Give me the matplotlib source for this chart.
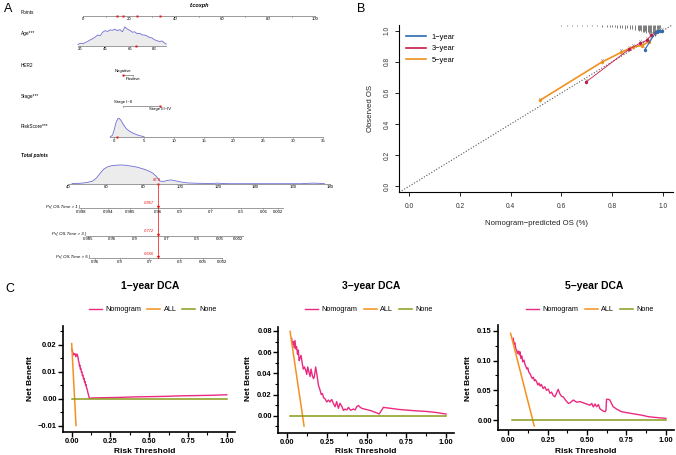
import numpy as np
import matplotlib
matplotlib.use("Agg")
import matplotlib.pyplot as plt
from matplotlib.ticker import MultipleLocator
from matplotlib.lines import Line2D

plt.rcParams['font.family'] = ['Liberation Sans', 'DejaVu Sans']

# ---------------- Panel A data (nomogram) ----------------
age_ticks = [25, 45, 65, 85]
age_grid = [23, 25, 27, 29, 31, 33, 35, 37, 39, 41, 43, 45, 47, 49, 51, 53, 55, 57,
            59, 61, 63, 65, 67, 69, 71, 73, 75, 77, 79, 81, 83, 85, 87, 89, 91, 93, 94.5]
age_dens = [0.05, 0.12, 0.10, 0.16, 0.22, 0.30, 0.36, 0.45, 0.55, 0.52, 0.70, 0.78, 0.74,
            0.82, 0.80, 0.86, 0.78, 0.84, 0.72, 0.98, 0.86, 0.80, 0.70, 0.72, 0.62, 0.64,
            0.56, 0.55, 0.50, 0.42, 0.40, 0.30, 0.26, 0.20, 0.24, 0.14, 0.08]
her2_levels = ["Negative", "Positive"]
her2_points = [17.2, 21.5]
stage_levels = ["Stage I~II", "Stage III~IV"]
stage_points = [17.2, 33.4]
risk_ticks = [0, 5, 10, 15, 20, 25, 30, 35]
risk_grid = [-0.7, -0.3, 0.0, 0.3, 0.6, 0.8, 1.1, 1.5, 2.0, 2.6, 3.2, 3.8, 4.4, 5.0]
risk_dens = [0.0, 0.10, 0.40, 0.78, 0.98, 1.0, 0.90, 0.68, 0.45, 0.30, 0.20, 0.12, 0.06, 0.02]
total_ticks = [40, 60, 80, 100, 120, 140, 160, 180]
total_grid = [42, 46, 50, 53, 55, 57, 59, 61, 63, 65, 67, 69, 71, 73, 75, 77, 79, 81, 83,
              85, 87, 89, 91, 93, 95, 97, 99, 101, 104, 107, 110, 113, 116, 118, 120, 122,
              126, 135, 150, 165, 168, 171, 174, 177]
total_dens = [0.01, 0.02, 0.06, 0.14, 0.30, 0.55, 0.78, 0.90, 0.96, 0.98, 1.0, 1.0, 0.98,
              0.95, 0.92, 0.88, 0.82, 0.76, 0.68, 0.58, 0.40, 0.14, 0.12, 0.18, 0.20, 0.16,
              0.12, 0.08, 0.04, 0.03, 0.02, 0.015, 0.01, 0.02, 0.03, 0.01, 0.0, 0.0, 0.0,
              0.0, 0.02, 0.03, 0.02, 0.0]
sel_points = [14.6, 17.2, 23.5, 33.4]     # RiskScore, HER2, Age, Stage
sel_age = 70
sel_risk = 0.4
sel_total = 88.0
sel_total_label = "87.9"
pr1_ticks = ["0.998", "0.994", "0.985", "0.96", "0.9", "0.7", "0.3", "0.05", "0.002"]
pr1_total = [46.8, 61.4, 73.0, 88.1, 99.7, 116.1, 132.2, 144.3, 152.0]
pr1_range = [46.3, 155.0]
pr3_ticks = ["0.985", "0.96", "0.9", "0.7", "0.3", "0.05", "0.002"]
pr3_total = [50.7, 63.2, 75.7, 92.6, 108.7, 121.1, 130.9]
pr3_range = [49.5, 133.6]
pr5_ticks = ["0.96", "0.9", "0.7", "0.3", "0.05", "0.002"]
pr5_total = [54.3, 67.6, 83.3, 99.7, 111.9, 122.0]
pr5_range = [51.6, 122.0]
pr_pred = ["0.957", "0.772", "0.656"]

# ---------------- Panel B data (calibration) ----------------
cal1_x = [0.928, 0.972, 0.982, 0.990, 0.995]
cal1_y = [0.876, 0.990, 0.995, 0.997, 0.999]
cal3_x = [0.696, 0.867, 0.909, 0.936, 0.955, 0.971]
cal3_y = [0.669, 0.881, 0.919, 0.938, 0.972, 0.990]
cal5_x = [0.514, 0.758, 0.836, 0.883, 0.918, 0.945]
cal5_y = [0.551, 0.797, 0.861, 0.897, 0.904, 0.930]
rug_x = [0.00, 0.05, 0.10, 0.14, 0.18, 0.22, 0.26, 0.30, 0.33, 0.36, 0.39, 0.42, 0.45,
         0.48, 0.51, 0.54, 0.57, 0.60, 0.62, 0.64, 0.66, 0.68, 0.70, 0.72, 0.74, 0.76,
         0.78, 0.79, 0.80, 0.81, 0.82, 0.83, 0.84, 0.85, 0.86, 0.87, 0.88, 0.89, 0.90,
         0.905, 0.91, 0.915, 0.92, 0.925, 0.93, 0.935, 0.94, 0.945, 0.95, 0.955, 0.96,
         0.965, 0.97, 0.975, 0.98, 0.985, 0.99]
rug_h = [1, 1, 1, 1, 1, 1, 1, 1, 1, 1, 1, 1, 1, 1, 1, 1, 1, 1.5, 1.5, 1.5, 1.5, 1.5, 2,
         2, 2, 2.5, 2.5, 3, 3, 3, 3.5, 3.5, 4, 4.5, 4, 5, 5, 5.5, 6, 6.5, 6, 7, 7.5, 8,
         7, 9, 8, 10, 9, 11, 9, 10, 12, 9, 8, 6, 4]

# ---------------- Panel C data (DCA) ----------------
dca1_t = [0.001, 0.012, 0.021, 0.027, 0.033, 0.038, 0.042, 0.044, 0.047, 0.050, 0.053,
          0.056, 0.059, 0.063, 0.066, 0.069, 0.073, 0.076, 0.080, 0.083, 0.087, 0.090,
          0.093, 0.097, 0.100, 0.104, 0.107, 0.111, 0.114, 0.13, 0.20, 0.30, 0.40, 0.50,
          0.60, 0.70, 0.80, 0.90, 1.00]
dca1_nb = [0.0185, 0.0163, 0.0168, 0.0156, 0.0166, 0.0160, 0.0150, 0.0140, 0.0136,
           0.0122, 0.0125, 0.0110, 0.0113, 0.0098, 0.0100, 0.0086, 0.0088, 0.0074, 0.0076,
           0.0062, 0.0064, 0.0050, 0.0052, 0.0038, 0.0036, 0.0024, 0.0018, 0.0008,
           0.0002, 0.0003, 0.0004, 0.0005, 0.0007, 0.0008, 0.0009, 0.0011, 0.0012,
           0.0013, 0.0015]
dca1_all_t = [0.0, 0.028]
dca1_all_nb = [0.0205, -0.0099]
dca1_none_t = [0.0, 1.0]

dca2_t = [0.029, 0.034, 0.040, 0.045, 0.050, 0.055, 0.060, 0.066, 0.071, 0.076, 0.081,
          0.088, 0.096, 0.102, 0.109, 0.117, 0.124, 0.130, 0.138, 0.145, 0.151, 0.159,
          0.166, 0.172, 0.180, 0.189, 0.197, 0.208, 0.215, 0.222, 0.230, 0.239, 0.250,
          0.260, 0.270, 0.281, 0.291, 0.302, 0.312, 0.323, 0.333, 0.344, 0.355, 0.365,
          0.376, 0.386, 0.400, 0.417, 0.428, 0.438, 0.449, 0.460, 0.470, 0.490, 0.512,
          0.533, 0.554, 0.567, 0.579, 0.606, 0.650, 0.700, 0.760, 0.826, 0.880, 0.931,
          1.000]
dca2_nb = [0.073, 0.067, 0.070, 0.064, 0.071, 0.063, 0.065, 0.058, 0.062, 0.052, 0.054,
           0.057, 0.049, 0.044, 0.046, 0.043, 0.039, 0.046, 0.041, 0.037, 0.044, 0.038,
           0.035, 0.037, 0.046, 0.038, 0.029, 0.024, 0.020, 0.021, 0.017, 0.016, 0.013,
           0.0148, 0.013, 0.0154, 0.0117, 0.0085, 0.0133, 0.007, 0.0117, 0.009, 0.005,
           0.0063, 0.0055, 0.0079, 0.0052, 0.0063, 0.0055, 0.0085, 0.0097, 0.0080, 0.007,
           0.0062, 0.0054, 0.0045, 0.0032, 0.0025, 0.0016, 0.0079, 0.0070, 0.006, 0.0052,
           0.0045, 0.0040, 0.0032, 0.0016]
dca2_all_t = [0.019, 0.107]
dca2_all_nb = [0.0795, -0.0097]
dca2_none_t = [0.019, 1.0]

dca3_t = [0.032, 0.037, 0.042, 0.048, 0.053, 0.058, 0.064, 0.070, 0.074, 0.080, 0.086,
          0.092, 0.100, 0.106, 0.112, 0.118, 0.124, 0.130, 0.138, 0.145, 0.152, 0.160,
          0.166, 0.172, 0.180, 0.188, 0.195, 0.203, 0.210, 0.222, 0.232, 0.243, 0.254,
          0.265, 0.275, 0.286, 0.296, 0.306, 0.317, 0.328, 0.338, 0.349, 0.360, 0.371,
          0.382, 0.392, 0.413, 0.434, 0.455, 0.476, 0.497, 0.519, 0.530, 0.540, 0.551,
          0.561, 0.572, 0.582, 0.593, 0.603, 0.614, 0.620, 0.624, 0.634, 0.645, 0.655,
          0.666, 0.690, 0.720, 0.760, 0.804, 0.850, 0.889, 0.940, 1.000]
dca3_nb = [0.1376, 0.128, 0.130, 0.120, 0.118, 0.112, 0.116, 0.110, 0.115, 0.104, 0.108,
           0.098, 0.101, 0.094, 0.090, 0.086, 0.088, 0.081, 0.078, 0.074, 0.070, 0.072,
           0.066, 0.068, 0.0645, 0.059, 0.062, 0.057, 0.060, 0.053, 0.056, 0.050, 0.052,
           0.045, 0.047, 0.041, 0.039, 0.045, 0.0517, 0.044, 0.040, 0.039, 0.035, 0.031,
           0.028, 0.029, 0.0337, 0.030, 0.031, 0.029, 0.027, 0.025, 0.028, 0.022, 0.027,
           0.0224, 0.026, 0.019, 0.0168, 0.015, 0.014, 0.016, 0.0348, 0.035, 0.0337,
           0.028, 0.0224, 0.018, 0.014, 0.012, 0.0101, 0.0080, 0.0056, 0.0042, 0.0028]
dca3_all_t = [0.015, 0.165]
dca3_all_nb = [0.146, -0.010]
dca3_none_t = [0.025, 1.0]

W, H = 676, 455
fig = plt.figure(figsize=(W / 100, H / 100), dpi=100)


def rect(l, t, r, b):
    return [l / W, 1 - b / H, (r - l) / W, (b - t) / H]


# =============== Panel A ===============
axA = fig.add_axes([0, 0, 340 / W, 1])
PX0, PXS = 82.7, 2.323          # pixel of 0 points, px per point
axA.set_xlim(-PX0 / PXS, (340 - PX0) / PXS)
axA.set_ylim(H, 0)
axA.axis('off')
GRAY = '#8a8a8a'
NFS = 3.4
LBLX = (20.7 - PX0) / PXS
DENS_C = '#6b6bd6'
FILL_C = '#ececec'


def age_pts(a):
    return -0.95 + (np.asarray(a, float) - 25) * 0.531


def risk_pts(r):
    return 13.6 + np.asarray(r, float) * 2.563


def tot_x(t):
    return -6.2 + (np.asarray(t, float) - 40) * 0.805


axA.text((200 - PX0) / PXS, 6, 'f.coxph', fontsize=4, fontweight='bold', fontstyle='italic',
         ha='center', va='center')
# Points row
yP = 15.7
axA.text(LBLX, 12.3, 'Points', fontsize=NFS, va='center', ha='left')
axA.plot([0, 100], [yP, yP], color=GRAY, lw=0.6)
for v in range(0, 101, 10):
    axA.plot([v, v], [yP, yP + (1.4 if v % 20 == 0 else 0.8)], color=GRAY, lw=0.5)
for v in range(0, 101, 20):
    axA.text(v, yP + 3.8, str(v), fontsize=NFS - 0.3, ha='center', va='center')
axA.plot(sel_points, [yP] * 4, 's', color='#ee1111', ms=1.8, mec='none')

# Age row
yA = 45.5
axA.text(LBLX, 33.3, 'Age***', fontsize=NFS, va='center', ha='left')
ax_ = age_pts(age_grid)
dy = yA - np.array(age_dens) * 19
axA.fill_between(ax_, dy, yA, color=FILL_C, lw=0)
axA.plot(ax_, dy, color=DENS_C, lw=0.6)
axA.plot([ax_[0], ax_[-1]], [yA, yA], color=GRAY, lw=0.6)
for v in age_ticks:
    axA.plot([age_pts(v)] * 2, [yA, yA + 1.2], color=GRAY, lw=0.5)
    axA.text(age_pts(v), yA + 3.8, str(v), fontsize=NFS - 0.3, ha='center', va='center')
axA.plot([age_pts(sel_age)], [yA], 's', color='#ee1111', ms=1.8, mec='none')

# HER2 row
yH = 75.0
axA.text(LBLX, 65.7, 'HER2', fontsize=NFS, va='center', ha='left')
axA.plot(her2_points, [yH, yH], color=GRAY, lw=0.6)
for p in her2_points:
    axA.plot([p, p], [yH, yH + 1.0], color=GRAY, lw=0.5)
axA.text(her2_points[0], yH - 4, her2_levels[0], fontsize=NFS - 0.3, ha='center', va='center')
axA.text(her2_points[1], yH + 3.7, her2_levels[1], fontsize=NFS - 0.3, ha='center', va='center')
axA.plot([her2_points[0]], [yH], 's', color='#ee1111', ms=1.8, mec='none')

# Stage row
yS = 106.0
axA.text(LBLX, 96.7, 'Stage***', fontsize=NFS, va='center', ha='left')
axA.plot(stage_points, [yS, yS], color=GRAY, lw=0.6)
for p in stage_points:
    axA.plot([p, p], [yS, yS + 1.0], color=GRAY, lw=0.5)
axA.text(stage_points[0], yS - 4, stage_levels[0], fontsize=NFS - 0.3, ha='center', va='center')
axA.text(stage_points[1], yS + 3.4, stage_levels[1], fontsize=NFS - 0.3, ha='center', va='center')
axA.plot([stage_points[1]], [yS], 's', color='#ee1111', ms=1.8, mec='none')

# RiskScore row
yR = 137.0
axA.text(LBLX, 126.7, 'RiskScore***', fontsize=NFS, va='center', ha='left')
rx = risk_pts(risk_grid)
ry = yR - np.array(risk_dens) * 18.7
axA.fill_between(rx, ry, yR, color=FILL_C, lw=0)
axA.plot(rx, ry, color=DENS_C, lw=0.6)
axA.plot([risk_pts(-0.7), risk_pts(35)], [yR, yR], color=GRAY, lw=0.6)
for v in risk_ticks:
    axA.plot([risk_pts(v)] * 2, [yR, yR + 1.2], color=GRAY, lw=0.5)
    axA.text(risk_pts(v), yR + 3.8, str(v), fontsize=NFS - 0.3, ha='center', va='center')
axA.plot([risk_pts(sel_risk)], [yR], 's', color='#ee1111', ms=1.8, mec='none')

# Total points row
yT = 183.7
axA.text(LBLX, 155.7, 'Total points', fontsize=NFS, fontweight='bold', fontstyle='italic',
         va='center', ha='left')
tx = tot_x(total_grid)
ty = yT - np.array(total_dens) * 18.7
axA.fill_between(tx, ty, yT, color=FILL_C, lw=0)
axA.plot(tx, ty, color=DENS_C, lw=0.6)
axA.plot([tot_x(40), tot_x(180)], [yT, yT], color=GRAY, lw=0.6)
for v in total_ticks:
    axA.plot([tot_x(v)] * 2, [yT, yT + 1.2], color=GRAY, lw=0.5)
    axA.text(tot_x(v), yT + 3.8, str(v), fontsize=NFS - 0.3, ha='center', va='center')
xs = float(tot_x(sel_total))
axA.plot([xs], [yT], 's', color='#ee1111', ms=2.0, mec='none')
axA.text(xs - 0.5, yT - 4, sel_total_label, fontsize=NFS - 0.4, color='#ee1111',
         fontstyle='italic', ha='center', va='center')

# Probability rows
pr_rows = [(208.0, 'Pr( OS.Time > 1 )', pr1_ticks, pr1_total, pr1_range),
           (235.7, 'Pr( OS.Time > 3 )', pr3_ticks, pr3_total, pr3_range),
           (258.3, 'Pr( OS.Time > 5 )', pr5_ticks, pr5_total, pr5_range)]
axA.plot([xs, xs], [yT, 258.3], color='#ee3333', lw=0.6)
for i, (yy, lab, tl, tt, rg) in enumerate(pr_rows):
    x0, x1 = tot_x(rg[0]), tot_x(rg[1])
    axA.plot([x0, x1], [yy, yy], color=GRAY, lw=0.6)
    axA.text(x0, yy - 1.2, lab, fontsize=NFS - 0.2, fontstyle='italic', ha='right', va='center')
    for s, t in zip(tl, tt):
        axA.plot([tot_x(t)] * 2, [yy, yy + 1.2], color=GRAY, lw=0.5)
        axA.text(tot_x(t), yy + 3.8, s, fontsize=NFS - 0.3, ha='center', va='center')
    axA.plot([xs], [yy - 1.2], 'v', color='#ee1111', ms=2.4, mec='none')
    axA.text(xs - 3.8, yy - 4.5, pr_pred[i], fontsize=NFS - 0.4, color='#ee1111',
             fontstyle='italic', ha='center', va='center')

# =============== Panel B ===============
axB = fig.add_axes(rect(399.3, 24.5, 673, 192.3))
axB.set_xlim(-0.04, 1.04)
axB.set_ylim(-0.04, 1.04)
for s in ['top', 'right']:
    axB.spines[s].set_visible(False)
for s in ['left', 'bottom']:
    axB.spines[s].set_linewidth(0.8)
axB.set_xticks([0, 0.2, 0.4, 0.6, 0.8, 1.0])
axB.set_yticks([0, 0.2, 0.4, 0.6, 0.8, 1.0])
axB.set_xticklabels(['0.0', '0.2', '0.4', '0.6', '0.8', '1.0'])
axB.set_yticklabels(['0.0', '0.2', '0.4', '0.6', '0.8', '1.0'], rotation=90, va='center')
axB.tick_params(length=3, width=0.7, labelsize=4.8, color='#222222', labelcolor='#333333')
axB.tick_params(axis='x', pad=5)
axB.tick_params(axis='y', pad=3.5)
axB.plot([-0.04, 1.04], [-0.04, 1.04], ls=(0, (1, 1.6)), color='#555555', lw=0.8)
rh = np.array(rug_h) / 156.0
axB.vlines(rug_x, 1.04 - rh, 1.04, color='#333333', lw=0.45, clip_on=False)
C1, C3, C5 = '#2f6bad', '#c41a45', '#f0901f'
for cx, cy, c, lw in [(cal5_x, cal5_y, C5, 1.2), (cal3_x, cal3_y, C3, 0.6), (cal1_x, cal1_y, C1, 0.8)]:
    axB.vlines(cx, np.array(cy) - 0.012, np.array(cy) + 0.012, color='#9a9a9a', lw=0.4)
    axB.plot(cx, np.array(cy) + 0.012, 'x', color='#9a9a9a', ms=2, mew=0.4)
    axB.plot(cx, cy, '-', color=c, lw=lw)
    axB.plot(cx, cy, 'o', color=c, ms=2.4, mec='none')
axB.set_xlabel('Nomogram−predicted OS (%)', fontsize=5.6, labelpad=7, color='#222222')
axB.set_ylabel('Observed OS', fontsize=5.6, labelpad=7, color='#222222')
hB = [Line2D([], [], color=C1, lw=1.2), Line2D([], [], color=C3, lw=1.2),
      Line2D([], [], color=C5, lw=1.2)]
axB.legend(hB, ['1−year', '3−year', '5−year'], loc='upper left', bbox_to_anchor=(0.0, 0.985),
           frameon=False, fontsize=5.4, handlelength=2.6, handletextpad=0.8, labelspacing=0.55)

# =============== Panel C ===============
PINK, ORANGE, OLIVE = '#ea2a80', '#f5901e', '#8c9a1a'
specs = [
    (rect(63.3, 326, 234.5, 431.7), (-0.054, 1.05), (-0.0122, 0.027), 0.005,
     dca1_t, dca1_nb, dca1_all_t, dca1_all_nb, dca1_none_t, '1−year DCA', 150, 30, 145,
     (88 + 217) / 2, ['−0.01', '0.00', '0.01', '0.02'], [-0.01, 0, 0.01, 0.02]),
    (rect(278.3, 326.7, 454, 432.7), (-0.055, 1.05), (-0.016, 0.084), 0.01,
     dca2_t, dca2_nb, dca2_all_t, dca2_all_nb, dca2_none_t, '3−year DCA', 371, 249, 365.7,
     (305 + 433) / 2, ['0.00', '0.02', '0.04', '0.06', '0.08'], [0, 0.02, 0.04, 0.06, 0.08]),
    (rect(498.3, 325, 673.7, 430), (-0.063, 1.05), (-0.0168, 0.16), 0.025,
     dca3_t, dca3_nb, dca3_all_t, dca3_all_nb, dca3_none_t, '5−year DCA', 594, 468, 586,
     (527 + 653) / 2, ['0.00', '0.05', '0.10', '0.15'], [0, 0.05, 0.10, 0.15]),
]
for (r, xl, yl, ymin, t, nb, at, anb, nt, title, tx_, ylx, xlx, lgx, ytl, ytv) in specs:
    ax = fig.add_axes(r)
    ax.set_xlim(*xl)
    ax.set_ylim(*yl)
    for s in ['top', 'right']:
        ax.spines[s].set_visible(False)
    for s in ['left', 'bottom']:
        ax.spines[s].set_linewidth(1.2)
    ax.set_xticks([0, 0.25, 0.5, 0.75, 1.0])
    ax.set_xticklabels(['0.00', '0.25', '0.50', '0.75', '1.00'])
    ax.set_yticks(ytv)
    ax.set_yticklabels(ytl)
    ax.xaxis.set_minor_locator(MultipleLocator(0.125))
    ax.yaxis.set_minor_locator(MultipleLocator(ymin))
    ax.tick_params(which='major', length=3.5, width=1.0, labelsize=5.4, pad=1.2)
    ax.tick_params(which='minor', length=2.0, width=0.8)
    for lab in ax.get_xticklabels() + ax.get_yticklabels():
        lab.set_fontweight('bold')
    lN, = ax.plot(t, nb, color=PINK, lw=1.0)
    lA, = ax.plot(at, anb, color=ORANGE, lw=1.1)
    lO, = ax.plot(nt, [0, 0], color=OLIVE, lw=1.1)
    fig.text(tx_ / W, 1 - 286 / H, title, fontsize=7.5, fontweight='bold', ha='center', va='center')
    fig.text(ylx / W, 1 - 379 / H, 'Net Benefit', fontsize=6, fontweight='bold', rotation=90,
             ha='center', va='center')
    fig.text(xlx / W, 1 - 451.5 / H, 'Risk Threshold', fontsize=6, fontweight='bold',
             ha='center', va='center')
    fig.legend([lN, lA, lO], ['Nomogram', 'ALL', 'None'], loc='center',
               bbox_to_anchor=(lgx / W, 1 - 309.5 / H), ncol=3, frameon=False, fontsize=5.2,
               handlelength=1.8, handletextpad=0.5, columnspacing=0.8, borderpad=0)

# panel letters
fig.text(8 / W, 1 - 9 / H, 'A', fontsize=9, ha='center', va='center')
fig.text(361 / W, 1 - 9 / H, 'B', fontsize=9, ha='center', va='center')
fig.text(10 / W, 1 - 289 / H, 'C', fontsize=9, ha='center', va='center')

fig.savefig('out.png', dpi=100)
